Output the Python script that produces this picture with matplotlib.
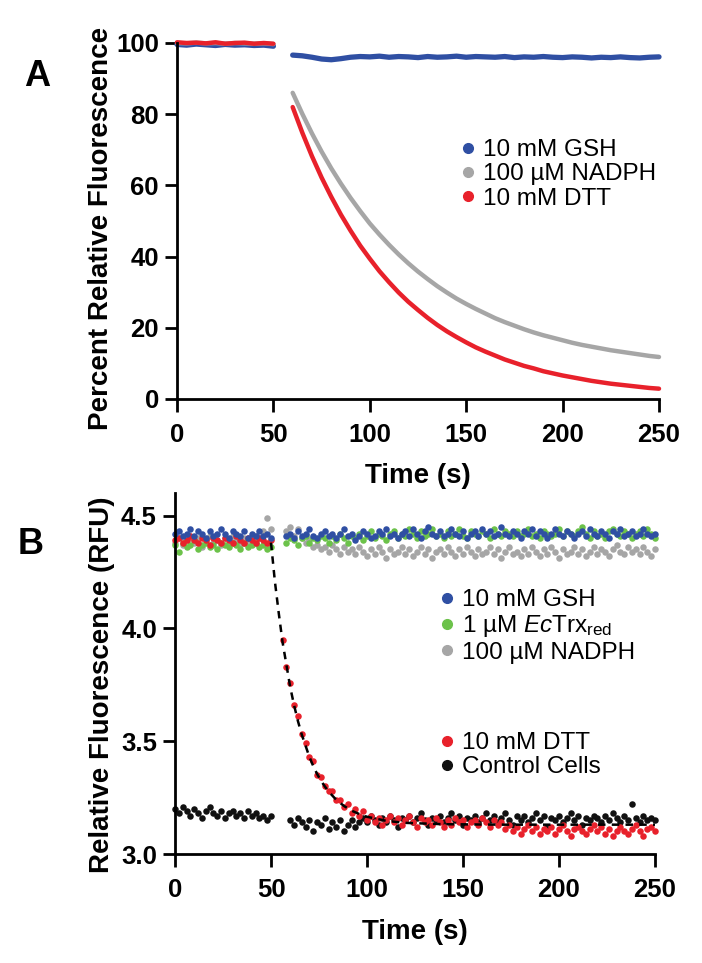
import matplotlib
matplotlib.use("Agg")
import matplotlib.pyplot as plt
from matplotlib.lines import Line2D

plt.rcParams["font.family"] = ["Liberation Sans", "DejaVu Sans"]
plt.rcParams["mathtext.fontset"] = "custom"
plt.rcParams["mathtext.rm"] = "Liberation Sans"
plt.rcParams["mathtext.it"] = "Liberation Sans:italic"
plt.rcParams["mathtext.bf"] = "Liberation Sans:bold"

BLUE = "#2f4fa3"
GREEN = "#6cc24a"
GREY = "#a6a6a6"
RED = "#e8212b"
BLACK = "#111111"

# ---------------------------------------------------------------- panel A
tA_pre = [0, 5, 10, 15, 20, 25, 30, 35, 40, 45, 50]
tA_post = [60, 65, 70, 75, 80, 85, 90, 95, 100, 105, 110, 115, 120, 125, 130,
           135, 140, 145, 150, 155, 160, 165, 170, 175, 180, 185, 190, 195,
           200, 205, 210, 215, 220, 225, 230, 235, 240, 245, 250]

a_gsh_pre = [99.6, 99.4, 99.7, 99.5, 99.3, 99.6, 99.4, 99.5, 99.3, 99.4, 99.1]
a_nadph_pre = [100.0, 99.9, 100.1, 99.9, 100.0, 99.8, 100.0, 99.9, 99.8, 99.9, 99.7]
a_dtt_pre = [100.2, 100.0, 100.1, 99.9, 100.2, 99.8, 100.0, 100.1, 99.8, 100.0, 99.8]

a_gsh_post = [96.6, 96.4, 96.0, 95.5, 95.3, 95.6, 96.0, 96.2, 96.1, 96.3,
              96.0, 96.2, 96.1, 95.9, 96.2, 96.0, 96.1, 96.3, 96.0, 96.2,
              96.1, 96.0, 96.2, 95.9, 96.1, 96.0, 96.2, 96.0, 95.9, 96.1,
              96.0, 95.8, 96.0, 95.9, 96.1, 95.9, 95.8, 96.0, 96.1]
a_nadph_post = [86.0, 80.1, 74.6, 69.5, 64.8, 60.5, 56.5, 52.8, 49.3, 46.2,
                43.3, 40.6, 38.1, 35.8, 33.7, 31.7, 29.9, 28.2, 26.7, 25.3,
                24.0, 22.7, 21.6, 20.6, 19.6, 18.7, 17.9, 17.2, 16.5, 15.8,
                15.2, 14.7, 14.2, 13.7, 13.3, 12.9, 12.5, 12.1, 11.8]
a_dtt_post = [82.0, 74.8, 68.2, 62.2, 56.8, 51.8, 47.3, 43.1, 39.4, 35.9,
              32.8, 29.9, 27.3, 25.0, 22.8, 20.8, 19.0, 17.4, 15.9, 14.5,
              13.3, 12.2, 11.1, 10.2, 9.3, 8.6, 7.8, 7.2, 6.6, 6.1,
              5.6, 5.1, 4.7, 4.3, 4.0, 3.7, 3.4, 3.1, 2.9]

# ---------------------------------------------------------------- panel B
tB_pre = [0, 2, 4, 6, 8, 10, 12, 14, 16, 18, 20, 22, 24, 26, 28, 30, 32, 34,
          36, 38, 40, 42, 44, 46, 48, 50]
tB_post = list(range(58, 251, 2))      # GSH / EcTrx / NADPH
tB_dtt = list(range(56, 251, 2))       # DTT
tB_ctrl = list(range(60, 251, 2))      # control cells

b_gsh_pre = [4.42, 4.43, 4.41, 4.42, 4.44, 4.41, 4.43, 4.42, 4.40, 4.43, 4.41, 4.42, 4.44,
             4.42, 4.40, 4.43, 4.42, 4.41, 4.43, 4.40, 4.42, 4.41, 4.43, 4.41, 4.42, 4.40]
b_trx_pre = [4.37, 4.34, 4.38, 4.36, 4.37, 4.39, 4.35, 4.37, 4.38, 4.36, 4.37, 4.35, 4.38,
             4.37, 4.36, 4.38, 4.37, 4.35, 4.38, 4.36, 4.37, 4.38, 4.36, 4.37, 4.35, 4.36]
b_nadph_pre = [4.38, 4.40, 4.37, 4.39, 4.41, 4.38, 4.40, 4.36, 4.39, 4.41, 4.38, 4.39, 4.37,
               4.40, 4.38, 4.41, 4.39, 4.37, 4.40, 4.38, 4.39, 4.41, 4.40, 4.43, 4.49, 4.44]
b_dtt_pre = [4.39, 4.40, 4.38, 4.39, 4.41, 4.39, 4.38, 4.40, 4.39, 4.37, 4.40, 4.39, 4.38,
             4.40, 4.39, 4.38, 4.41, 4.39, 4.38, 4.40, 4.39, 4.38, 4.40, 4.39, 4.38, 4.39]
b_ctrl_pre = [3.20, 3.18, 3.21, 3.19, 3.17, 3.20, 3.18, 3.16, 3.19, 3.21, 3.18, 3.17, 3.19,
              3.16, 3.18, 3.19, 3.17, 3.18, 3.16, 3.19, 3.17, 3.18, 3.16, 3.17, 3.15, 3.17]

b_gsh_post = [4.41, 4.42, 4.40, 4.43, 4.41, 4.42, 4.44, 4.41, 4.40, 4.42,
              4.43, 4.41, 4.42, 4.40, 4.42, 4.44, 4.41, 4.42, 4.39, 4.41,
              4.43, 4.42, 4.40, 4.41, 4.43, 4.42, 4.44, 4.41, 4.42, 4.40,
              4.42, 4.43, 4.41, 4.44, 4.42, 4.40, 4.43, 4.45, 4.42, 4.41,
              4.43, 4.41, 4.42, 4.44, 4.42, 4.41, 4.43, 4.40, 4.42, 4.43,
              4.41, 4.44, 4.42, 4.43, 4.41, 4.42, 4.45, 4.42, 4.41, 4.43,
              4.42, 4.40, 4.43, 4.42, 4.44, 4.41, 4.43, 4.42, 4.40, 4.42,
              4.44, 4.42, 4.41, 4.43, 4.42, 4.40, 4.42, 4.43, 4.41, 4.44,
              4.42, 4.41, 4.43, 4.42, 4.40, 4.43, 4.42, 4.44, 4.41, 4.42,
              4.43, 4.41, 4.42, 4.44, 4.42, 4.41, 4.42]
b_trx_post = [4.38, 4.40, 4.39, 4.37, 4.40, 4.41, 4.38, 4.40, 4.39, 4.41,
              4.40, 4.38, 4.41, 4.39, 4.42, 4.40, 4.38, 4.41, 4.40, 4.42,
              4.39, 4.41, 4.43, 4.40, 4.42, 4.41, 4.39, 4.42, 4.43, 4.40,
              4.42, 4.41, 4.44, 4.42, 4.40, 4.43, 4.41, 4.42, 4.44, 4.41,
              4.42, 4.40, 4.43, 4.41, 4.42, 4.44, 4.41, 4.40, 4.43, 4.42,
              4.41, 4.43, 4.42, 4.40, 4.44, 4.42, 4.41, 4.43, 4.42, 4.41,
              4.43, 4.41, 4.42, 4.44, 4.41, 4.42, 4.40, 4.43, 4.42, 4.41,
              4.42, 4.44, 4.41, 4.43, 4.42, 4.41, 4.43, 4.45, 4.42, 4.40,
              4.43, 4.41, 4.42, 4.40, 4.43, 4.44, 4.42, 4.41, 4.43, 4.42,
              4.40, 4.42, 4.43, 4.41, 4.44, 4.42, 4.40]
b_nadph_post = [4.43, 4.45, 4.41, 4.44, 4.40, 4.38, 4.39, 4.36, 4.37, 4.35,
                4.36, 4.34, 4.37, 4.35, 4.33, 4.36, 4.34, 4.35, 4.33, 4.36,
                4.34, 4.32, 4.35, 4.33, 4.36, 4.34, 4.31, 4.35, 4.33, 4.34,
                4.36, 4.33, 4.35, 4.32, 4.34, 4.36, 4.33, 4.35, 4.31, 4.34,
                4.35, 4.33, 4.36, 4.34, 4.32, 4.35, 4.33, 4.36, 4.34, 4.32,
                4.35, 4.33, 4.34, 4.36, 4.33, 4.35, 4.31, 4.34, 4.36, 4.33,
                4.34, 4.32, 4.35, 4.33, 4.36, 4.34, 4.32, 4.35, 4.33, 4.36,
                4.34, 4.31, 4.35, 4.33, 4.34, 4.36, 4.33, 4.35, 4.32, 4.34,
                4.36, 4.33, 4.35, 4.34, 4.32, 4.35, 4.37, 4.34, 4.33, 4.36,
                4.34, 4.35, 4.33, 4.36, 4.34, 4.32, 4.35]
b_dtt_post = [3.95, 3.83, 3.76, 3.66, 3.61, 3.53, 3.49, 3.43, 3.41, 3.35,
              3.34, 3.30, 3.28, 3.28, 3.24, 3.24, 3.21, 3.22, 3.18, 3.20,
              3.17, 3.19, 3.15, 3.17, 3.14, 3.16, 3.13, 3.15, 3.17, 3.14,
              3.16, 3.13, 3.15, 3.17, 3.14, 3.12, 3.16, 3.14, 3.15, 3.13,
              3.16, 3.14, 3.12, 3.15, 3.13, 3.16, 3.14, 3.15, 3.12, 3.14,
              3.15, 3.13, 3.16, 3.14, 3.12, 3.15, 3.13, 3.14, 3.11, 3.13,
              3.10, 3.12, 3.09, 3.11, 3.13, 3.10, 3.12, 3.09, 3.11, 3.10,
              3.12, 3.09, 3.11, 3.13, 3.10, 3.08, 3.11, 3.12, 3.10, 3.09,
              3.11, 3.13, 3.10, 3.12, 3.09, 3.11, 3.08, 3.10, 3.12, 3.10,
              3.09, 3.11, 3.13, 3.10, 3.08, 3.11, 3.12, 3.10]
b_ctrl_post = [3.15, 3.13, 3.16, 3.14, 3.12, 3.15, 3.10, 3.14, 3.13, 3.16,
               3.11, 3.14, 3.12, 3.15, 3.10, 3.13, 3.15, 3.12, 3.14, 3.16,
               3.14, 3.17, 3.15, 3.13, 3.16, 3.14, 3.17, 3.15, 3.12, 3.16,
               3.15, 3.17, 3.14, 3.16, 3.18, 3.15, 3.13, 3.16, 3.15, 3.17,
               3.14, 3.16, 3.18, 3.15, 3.17, 3.13, 3.16, 3.15, 3.17, 3.14,
               3.16, 3.18, 3.15, 3.17, 3.14, 3.16, 3.18, 3.15, 3.13, 3.17,
               3.15, 3.17, 3.14, 3.16, 3.18, 3.15, 3.17, 3.12, 3.16, 3.15,
               3.17, 3.14, 3.16, 3.18, 3.15, 3.17, 3.13, 3.16, 3.15, 3.17,
               3.16, 3.14, 3.17, 3.15, 3.18, 3.16, 3.14, 3.17, 3.15, 3.22,
               3.16, 3.14, 3.17, 3.15, 3.16, 3.15]

# single-exponential fit drawn through the DTT trace
fit_t = [50, 52, 54, 56, 58, 60, 62, 64, 66, 68, 70, 72, 74, 76, 78, 80, 84, 88,
         92, 96, 100, 110, 120, 140, 170, 200, 250]
fit_y = [4.38, 4.21, 4.07, 3.94, 3.84, 3.74, 3.66, 3.59, 3.53, 3.48, 3.43, 3.39,
         3.355, 3.325, 3.30, 3.277, 3.24, 3.213, 3.192, 3.177, 3.165, 3.147, 3.138,
         3.132, 3.13, 3.13, 3.13]

W, H = 702, 963
fig = plt.figure(figsize=(W / 100, H / 100), dpi=100)


def style_axes(ax):
    for s in ("top", "right"):
        ax.spines[s].set_visible(False)
    for s in ("left", "bottom"):
        ax.spines[s].set_linewidth(2.0)
    ax.tick_params(axis="both", which="major", direction="out", length=9,
                   width=2.0, labelsize=18.5)
    ax.tick_params(axis="x", pad=8)
    ax.tick_params(axis="y", pad=4)
    for lab in ax.get_xticklabels() + ax.get_yticklabels():
        lab.set_fontweight("bold")
    ax.set_xlim(0, 250)
    ax.set_xticks([0, 50, 100, 150, 200, 250])
    ax.set_xlabel("Time (s)", fontsize=20, fontweight="bold", va="top")


def add_legend(ax, colors, labels, left_px, top_px):
    handles = [Line2D([], [], ls="", marker="o", ms=7, color=c) for c in colors]
    return ax.legend(handles, labels, loc="upper left",
                     bbox_to_anchor=(left_px / W, 1 - top_px / H),
                     bbox_transform=fig.transFigure, frameon=False, fontsize=17.5,
                     handlelength=0.6, handletextpad=0.3, labelspacing=0.1,
                     borderpad=0, borderaxespad=0)


# ---- A
axA = fig.add_axes([177 / W, 1 - 399 / H, 482 / W, 356 / H])
for t, y, c, lw in [(tA_pre, a_gsh_pre, BLUE, 3.8), (tA_post, a_gsh_post, BLUE, 3.8),
                    (tA_pre, a_nadph_pre, GREY, 3.2), (tA_post, a_nadph_post, GREY, 3.2),
                    (tA_pre, a_dtt_pre, RED, 3.2), (tA_post, a_dtt_post, RED, 3.2)]:
    axA.plot(t, y, color=c, lw=lw, solid_capstyle="round", clip_on=False)
axA.set_ylim(0, 100)
axA.set_yticks([0, 20, 40, 60, 80, 100])
style_axes(axA)
axA.set_ylabel("Percent Relative Fluorescence", fontsize=20, fontweight="bold")
axA.yaxis.set_label_coords(-0.13, 0.48)
axA.xaxis.set_label_coords(0.5, -0.18)
add_legend(axA, (BLUE, GREY, RED), ["10 mM GSH", "100 µM NADPH", "10 mM DTT"], 461, 139)

# ---- B
axB = fig.add_axes([175 / W, 1 - 854 / H, 480 / W, 361 / H])
ms = 22
axB.scatter(tB_pre, b_nadph_pre, s=ms, color=GREY, lw=0, clip_on=False)
axB.scatter(tB_post, b_nadph_post, s=ms, color=GREY, lw=0, clip_on=False)
axB.scatter(tB_pre, b_trx_pre, s=ms, color=GREEN, lw=0, clip_on=False)
axB.scatter(tB_post, b_trx_post, s=ms, color=GREEN, lw=0, clip_on=False)
axB.scatter(tB_pre, b_dtt_pre, s=ms, color=RED, lw=0, clip_on=False)
axB.scatter(tB_pre, b_gsh_pre, s=ms, color=BLUE, lw=0, clip_on=False)
axB.scatter(tB_post, b_gsh_post, s=ms, color=BLUE, lw=0, clip_on=False)
axB.scatter(tB_pre, b_ctrl_pre, s=ms, color=BLACK, lw=0, clip_on=False)
axB.scatter(tB_ctrl, b_ctrl_post, s=ms, color=BLACK, lw=0, clip_on=False)
axB.scatter(tB_dtt, b_dtt_post, s=ms, color=RED, lw=0, clip_on=False)
axB.plot(fit_t, fit_y, color="black", lw=1.8, ls=(0, (3, 2.5)))
axB.set_ylim(3.0, 4.6)
axB.set_yticks([3.0, 3.5, 4.0, 4.5])
axB.set_yticklabels(["3.0", "3.5", "4.0", "4.5"])
style_axes(axB)
axB.set_ylabel("Relative Fluorescence (RFU)", fontsize=20, fontweight="bold")
axB.yaxis.set_label_coords(-0.125, 0.47)
axB.xaxis.set_label_coords(0.5, -0.18)

legB1 = add_legend(axB, (BLUE, GREEN, GREY),
                   ["10 mM GSH", r"1 µM $\it{Ec}$Trx$_{\rm red}$", "100 µM NADPH"], 440, 589)
axB.add_artist(legB1)
add_legend(axB, (RED, BLACK), ["10 mM DTT", "Control Cells"], 440, 732)

fig.text(37 / W, 1 - 76 / H, "A", fontsize=26, fontweight="bold", ha="center", va="center")
fig.text(31 / W, 1 - 545 / H, "B", fontsize=26, fontweight="bold", ha="center", va="center")

fig.savefig("out.png", dpi=100)
